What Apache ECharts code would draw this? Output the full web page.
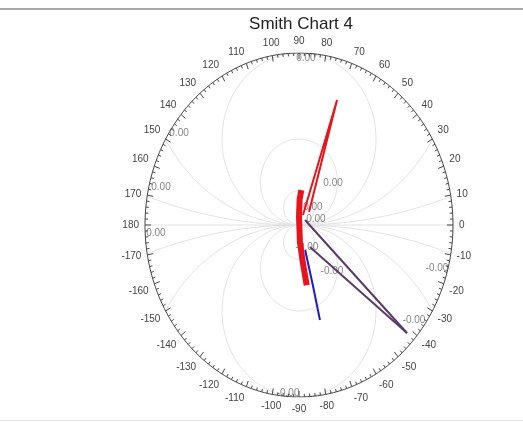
<!DOCTYPE html>
<html>
<head>
<meta charset="utf-8">
<title>Smith Chart 4</title>
<script src="https://cdn.jsdelivr.net/npm/echarts@6/dist/echarts.min.js"></script>
<style>
html, body { margin: 0; padding: 0; background: #fff; }
#main { width: 523px; height: 423px; }
</style>
</head>
<body>
<div id="main"></div>
<script>
// Smith chart, everything in coordinates normalised to the outer circle (radius 1)
var angleLabels = [0, 10, 20, 30, 40, 50, 60, 70, 80, 90, 100, 110, 120, 130, 140, 150, 160, 170, 180,
    -170, -160, -150, -140, -130, -120, -110, -100, -90, -80, -70, -60, -50, -40, -30, -20, -10];
var arcRadii = [0.1, 0.25, 0.5, 1, 3];

// traces
var redTip = [[0.026, 0.058], [0.247, 0.727], [0.065, 0.076]];
var redBand = [[0.015, 0.203], [0.004, 0.15], [0.0, 0.05], [0.006, -0.1], [0.025, -0.22], [0.05, -0.35]];
var blueTrace = [[0.04, -0.145], [0.09, -0.35], [0.136, -0.552]];
var purpleA = [[0.039, 0.029], [0.701, -0.628]];
var purpleB = [[0.071, -0.128], [0.701, -0.628]];

// "0.00" circle labels [x, y, text]
var circleLabels = [
    [0.045, 0.971, '0.00'], [-0.779, 0.535, '0.00'], [-0.896, 0.221, '0.00'],
    [-0.929, -0.047, '0.00'], [0.221, 0.244, '0.00'], [0.11, 0.035, '0.00'],
    [0.09, 0.105, '0.00'], [0.052, -0.128, '-0.00'], [0.214, -0.267, '-0.00'],
    [0.896, -0.25, '-0.00'], [0.747, -0.552, '-0.00'], [-0.071, -0.977, '-0.00']
];

var myChart = echarts.init(document.getElementById('main'));

// grid arcs: circles tangent to the horizontal axis at the centre
function arcPoints(k, sign) {
    var pts = [];
    var phi0 = k <= 0.5 ? Math.PI : Math.acos(1 - 1 / (2 * k * k));
    var n = 180;
    for (var i = 0; i <= n; i++) {
        var f = -phi0 + 2 * phi0 * i / n;
        pts.push([k * Math.sin(f), sign * (k - k * Math.cos(f))]);
    }
    return pts;
}

var gridSeries = [];
arcRadii.forEach(function (k) {
    [1, -1].forEach(function (s) {
        gridSeries.push({
            type: 'line', data: arcPoints(k, s), showSymbol: false, silent: true,
            lineStyle: { color: '#e2e2e2', width: 1 }, z: 1
        });
    });
});
gridSeries.push({
    type: 'line', data: [[-1, 0], [1, 0]], showSymbol: false, silent: true,
    lineStyle: { color: '#e2e2e2', width: 1 }, z: 1
});

var outer = [];
for (var i = 0; i <= 360; i++) {
    outer.push([Math.cos(i * Math.PI / 180), Math.sin(i * Math.PI / 180)]);
}
var tickAngles = [];
for (var t = 0; t < 360; t += 2) tickAngles.push([t]);

function renderTick(params, api) {
    var deg = api.value(0);
    var a = deg * Math.PI / 180;
    var p = api.coord([Math.cos(a), Math.sin(a)]);
    var c = api.coord([0, 0]);
    var dx = c[0] - p[0], dy = c[1] - p[1];
    var d = Math.sqrt(dx * dx + dy * dy);
    var len = deg % 10 === 0 ? 6 : 3;
    return {
        type: 'line',
        shape: { x1: p[0], y1: p[1], x2: p[0] + dx / d * len, y2: p[1] + dy / d * len },
        style: { stroke: '#444', lineWidth: 1 }
    };
}

function renderAngleLabel(params, api) {
    var deg = api.value(0);
    var a = deg * Math.PI / 180;
    var p = api.coord([Math.cos(a), Math.sin(a)]);
    var cs = Math.cos(a), sn = Math.sin(a);
    var align = cs > 0.25 ? 'left' : (cs < -0.25 ? 'right' : 'center');
    var valign = sn > 0.25 ? 'bottom' : (sn < -0.25 ? 'top' : 'middle');
    return {
        type: 'text',
        x: p[0] + cs * 6,
        y: p[1] - sn * 7,
        style: {
            text: String(deg), fill: '#444', font: '10px Arial',
            align: align, verticalAlign: valign
        }
    };
}

function trace(data, color, width) {
    return {
        type: 'line', data: data, showSymbol: false, z: 5,
        lineStyle: { color: color, width: width }
    };
}

var option = {
    animation: false,
    title: {
        text: 'Smith Chart 4', left: 296, top: 11, textAlign: 'center',
        textStyle: { fontFamily: 'Arial', fontSize: 17, fontWeight: 'normal', color: '#222' }
    },
    graphic: [
        { type: 'rect', shape: { x: 0, y: 8, width: 523, height: 2 }, style: { fill: '#a8a8a8' } },
        { type: 'rect', shape: { x: 0, y: 420, width: 523, height: 1 }, style: { fill: '#e4e4e4' } }
    ],
    grid: { left: 145, top: 53, width: 308, height: 344 },
    xAxis: { type: 'value', min: -1, max: 1, show: false },
    yAxis: { type: 'value', min: -1, max: 1, show: false },
    series: gridSeries.concat([
        {
            type: 'scatter', data: circleLabels, symbolSize: 0, silent: true, z: 2,
            label: {
                show: true, position: 'inside', color: '#666', fontSize: 10, fontFamily: 'Arial',
                formatter: function (p) { return p.value[2]; }
            }
        },
        {
            type: 'line', data: outer, showSymbol: false, silent: true, z: 3,
            lineStyle: { color: '#444', width: 1 }
        },
        { type: 'custom', data: tickAngles, renderItem: renderTick, silent: true, z: 3 },
        { type: 'custom', data: angleLabels.map(function (v) { return [v]; }), renderItem: renderAngleLabel, silent: true, z: 3 },
        trace(purpleA, '#5a3a68', 2),
        trace(purpleB, '#5a3a68', 2),
        trace(blueTrace, '#1a1ad0', 2),
        trace(redBand, '#e8141c', 6),
        trace(redTip, '#e8141c', 2)
    ])
};

myChart.setOption(option);
</script>
</body>
</html>
